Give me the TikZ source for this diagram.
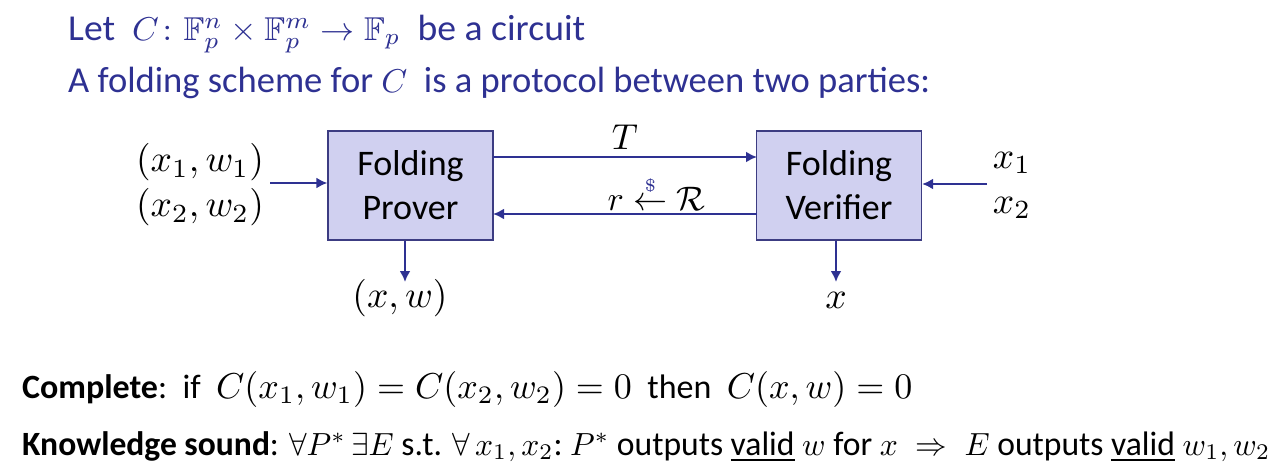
\documentclass[tikz,border=0pt]{standalone}
\usepackage{amsmath,amssymb}
\usepackage{fontspec}
\setmainfont{Carlito}
\usetikzlibrary{arrows.meta}
\definecolor{dblue}{RGB}{46,49,146}
\definecolor{boxfill}{RGB}{208,208,240}
\definecolor{boxline}{RGB}{60,60,130}
\newcommand\sm[2]{{\fontsize{10}{12}\selectfont\scalebox{#1}{$#2$}}}
\newcommand\fitw[2]{\resizebox{#1}{\height}{#2}}
\begin{document}
\begin{tikzpicture}[x=1pt,y=-1pt,
  party/.style={draw=boxline,line width=1.2pt,fill=boxfill,minimum width=165pt,minimum height=109pt,align=center,font=\fontsize{36}{44}\selectfont,inner sep=0pt},
  conn/.style={draw=dblue,line width=2.8pt,-{Latex[length=11pt,width=11pt]}},
  mlab/.style={inner sep=0pt,align=center},
  title/.style={font=\fontsize{36.5}{40}\selectfont,text=dblue,anchor=base west,inner sep=0pt},
  prop/.style={font=\fontsize{34}{40}\selectfont,anchor=base west,inner sep=0pt}]
\useasboundingbox (0,0) rectangle (1280,474);
\node[title] (t1) at (68,40) {\fitw{517pt}{Let \ \sm{3.3}{C\colon \mathbb{F}_p^n\times\mathbb{F}_p^m\to\mathbb{F}_p}\ \ be a circuit}};
\node[title] (t2) at (68,92) {\fitw{862pt}{A folding scheme for \sm{3.3}{C}\ \ is a protocol between two parties:}};
\node[party] (P) at (410.5,185.5) {Folding\\Prover};
\node[party] (V) at (839,185.5) {Folding\\Verifier};
\coordinate (pT) at (493,157);
\coordinate (vT) at (757,157);
\coordinate (vr) at (757,214);
\coordinate (pr) at (493,214);
\draw[conn] (pT) -- (vT) node[midway,above=6pt,mlab] (T) {\sm{3.6}{T}};
\draw[conn] (vr) -- (pr) node[pos=0.38,above=2pt,mlab] (R) {\sm{3.4}{r\overset{\textcolor{dblue}{\scriptscriptstyle\$}}{\leftarrow}\mathcal{R}}};
\node[mlab] (in1) at (200,162) {\sm{3.75}{(x_1,w_1)}};
\node[mlab] (in2) at (200,207) {\sm{3.75}{(x_2,w_2)}};
\coordinate (inL) at (270,183);
\draw[conn] (inL) -- (P.west |- inL);
\node[mlab] (in3) at (1012,163) {\sm{3.75}{x_1}};
\node[mlab] (in4) at (1012,208) {\sm{3.75}{x_2}};
\coordinate (inR) at (987,184);
\draw[conn] (inR) -- (V.east |- inR);
\node[mlab] (outP) at (400,298) {\sm{3.75}{(x,w)}};
\node[mlab] (outV) at (836,300) {\sm{3.75}{x}};
\draw[conn] (P.south -| 405,0) -- (405,282);
\draw[conn] (V.south -| 836,0) -- (836,282);
\node[prop] (c) at (22,398) {\textbf{Complete}:\ \ if \ \sm{3.6}{C(x_1,w_1)=C(x_2,w_2)=0} \ then \ \sm{3.6}{C(x,w)=0}};
\node[prop] (k) at (22,455) {\fitw{1248pt}{\textbf{Knowledge sound}: \sm{3.2}{\forall P^*\,\exists E} s.t. \sm{3.2}{\forall\,x_1,x_2}:\ \sm{3.2}{P^*} outputs \underline{valid} \sm{3.2}{w} for \sm{3.2}{x\;\Rightarrow\;E} outputs \underline{valid} \sm{3.2}{w_1,w_2}}};
\end{tikzpicture}
\end{document}
